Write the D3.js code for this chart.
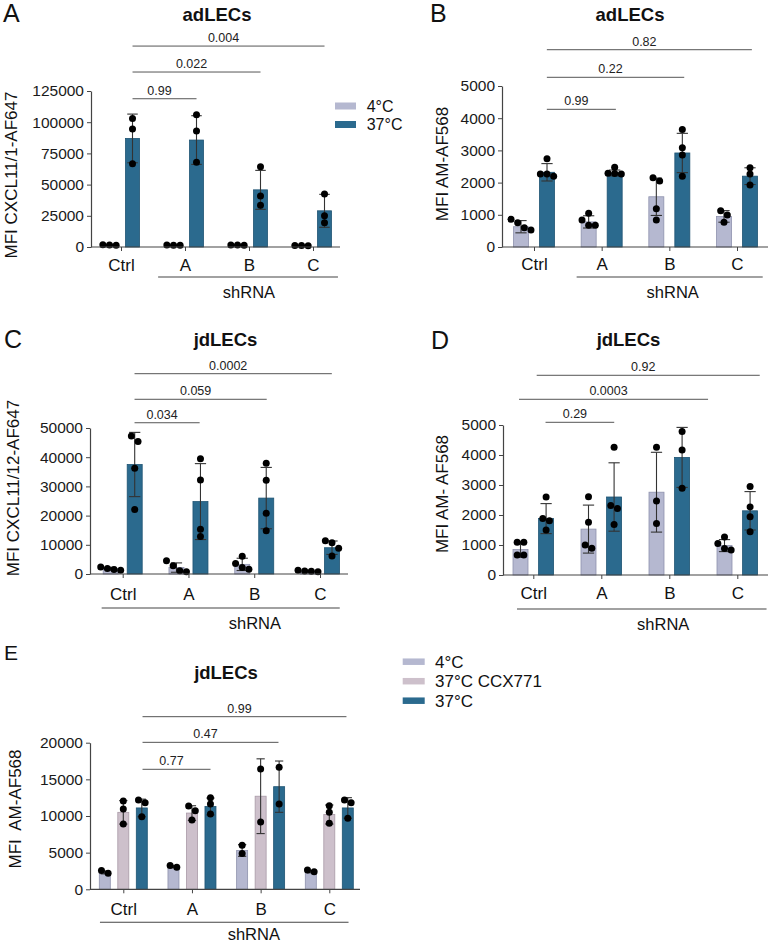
<!DOCTYPE html>
<html><head><meta charset="utf-8">
<script src="https://cdn.jsdelivr.net/npm/d3@7"></script>
<style>
body{margin:0;background:#fff}
svg{display:block}
text{font-family:"Liberation Sans",Arial,sans-serif}
</style>
</head><body>
<svg id="chart" width="770" height="944"></svg>
<script>
// ---------------- DATA ----------------
const categories = ["Ctrl", "A", "B", "C"];
const seriesAB = ["4°C", "37°C"];
const seriesE = ["4°C", "37°C CCX771", "37°C"];

// Panel A: adLECs, MFI CXCL11/1-AF647
const aTicks = [0, 25000, 50000, 75000, 100000, 125000];
const aMean4 = [1700, 1500, 1600, 1200];
const aSd4 = [250, 150, 150, 150];
const aPts4 = [[1900, 1700, 1500], [1600, 1500, 1400], [1700, 1600, 1500], [1300, 1200, 1100]];
const aMean37 = [87000, 85700, 45800, 29000];
const aSd37 = [19500, 19500, 15600, 13200];
const aPts37 = [[103000, 94500, 66800], [106000, 93000, 68000], [64300, 40900, 33400], [42500, 25000, 19500]];
const aBracketLabels = ["0.99", "0.022", "0.004"];
const aBracketLevels = [118800, 140200, 161000];
const aBracketFrom = [0.18, 0.18, 0.18];
const aBracketTo = [1.18, 2.18, 3.18];

// Panel B: adLECs, MFI AM-AF568
const bTicks = [0, 1000, 2000, 3000, 4000, 5000];
const bMean4 = [630, 780, 1560, 950];
const bSd4 = [190, 190, 580, 180];
const bPts4 = [[860, 755, 600, 530], [1046, 840, 674, 674], [2150, 2050, 1190, 840], [1127, 994, 767]];
const bMean37 = [2320, 2300, 2920, 2200];
const bSd37 = [270, 90, 610, 260];
const bPts37 = [[2740, 2270, 2270, 2200], [2480, 2290, 2280, 2270], [3650, 3080, 2860, 2200], [2460, 2270, 1925]];
const bBracketLabels = ["0.99", "0.22", "0.82"];
const bBracketLevels = [4276, 5270, 6127];
const bBracketFrom = [0.19, 0.19, 0.19];
const bBracketTo = [1.21, 2.22, 3.22];

// Panel C: jdLECs, MFI CXCL11/12-AF647
const cTicks = [0, 10000, 20000, 30000, 40000, 50000];
const cMean4 = [1800, 2200, 3300, 1000];
const cSd4 = [500, 1600, 2100, 250];
const cPts4 = [[2400, 1900, 1500, 1300], [4500, 2800, 1100, 800], [6100, 3600, 2200, 1600], [1300, 1000, 900, 800]];
const cMean37 = [37500, 24800, 26000, 9000];
const cSd37 = [11000, 13000, 10500, 2300];
const cPts37 = [[47300, 45400, 36200, 22100], [39500, 32200, 15300, 12800], [37900, 32100, 20800, 14800], [11400, 10700, 8800, 6200]];
const cBracketLabels = ["0.034", "0.059", "0.0002"];
const cBracketLevels = [51800, 59830, 68600];
const cBracketFrom = [0.18, 0.18, 0.18];
const cBracketTo = [1.17, 2.19, 3.18];

// Panel D: jdLECs, MFI AM- AF568
const dTicks = [0, 1000, 2000, 3000, 4000, 5000];
const dMean4 = [850, 1530, 2760, 980];
const dSd4 = [260, 800, 1330, 200];
const dPts4 = [[1090, 1090, 670, 670], [2610, 1760, 1000, 890], [4260, 2470, 1720], [1270, 1050, 885, 830]];
const dMean37 = [1880, 2600, 3920, 2140];
const dSd37 = [500, 1140, 1000, 640];
const dPts37 = [[2600, 1880, 1810, 1500], [4260, 2320, 2220, 1680], [4780, 4170, 2890], [2950, 2270, 1940, 1440]];
const dBracketLabels = ["0.29", "0.0003", "0.92"];
const dBracketLevels = [5090, 5857, 6657];
const dBracketFrom = [0.18, -0.21, 0.05];
const dBracketTo = [1.19, 2.57, 3.33];

// Panel E: jdLECs, MFI AM-AF568
const eTicks = [0, 5000, 10000, 15000, 20000];
const eMean4 = [2300, 3100, 5300, 2400];
const eSd4 = [200, 150, 800, 150];
const ePts4 = [[2200, 2550], [3000, 3250], [6000, 4900], [2400, 2650]];
const eMeanCCX = [10500, 10400, 12700, 10200];
const eSdCCX = [1600, 1000, 5100, 1300];
const ePtsCCX = [[12050, 10950, 8900], [11360, 10730, 9450], [16400, 9180], [11400, 10500, 9000]];
const eMean37 = [11100, 11300, 14000, 11100];
const eSd37 = [1200, 1150, 3500, 1400];
const ePts37 = [[12180, 11820, 9900], [12500, 11640, 10270], [16640, 11640], [12180, 11820, 9700]];
const eBracketLabels = ["0.77", "0.47", "0.99"];
const eBracketLevels = [16370, 20050, 23550];
const eBracketFrom = [0.28, 0.28, 0.28];
const eBracketTo = [1.27, 2.26, 3.25];

// ---------------- STYLE ----------------
const fill = {"4°C": "#b5b8d0", "37°C CCX771": "#cdc0cb", "37°C": "#2b6a8e"};
const edge = {"4°C": "#8e92ad", "37°C CCX771": "#a99aa7", "37°C": "#1f5473"};
const axisColor = "#444";
const DOT_R = 3.5;

const svg = d3.select("#chart");

function swarm(vals, y, r) {
  const idx = vals.map((v, i) => ({i, py: y(v)})).sort((a, b) => a.py - b.py);
  const offs = new Array(vals.length).fill(0);
  let groups = [], cur = [];
  idx.forEach(d => {
    if (cur.length && d.py - cur[cur.length - 1].py > 2 * r * 0.8) { groups.push(cur); cur = []; }
    cur.push(d);
  });
  if (cur.length) groups.push(cur);
  groups.forEach(gr => {
    const m = gr.length;
    gr.forEach((d, k) => { offs[d.i] = (k - (m - 1) / 2) * 2 * r * 0.95; });
  });
  return offs;
}

function drawPanel(p) {
  const g = svg.append("g");
  const y = d3.scaleLinear().domain([0, p.yMax]).range([p.yBase, p.yTop]);
  const x = d3.scalePoint().domain(categories).range(p.catRange);
  const xu = d3.scaleLinear().domain([0, categories.length - 1]).range(p.catRange);
  const off = d3.scalePoint().domain(p.series).range([-p.off, p.off]);

  const rows = [];
  p.series.forEach((s, si) => categories.forEach((c, ci) => rows.push({
    s, c, m: p.means[si][ci], sd: p.sds[si][ci], pts: p.pts[si][ci],
    cx: x(c) + off(s)
  })));

  g.selectAll("rect.bar").data(rows).join("rect").attr("class", "bar")
    .attr("x", d => d.cx - p.barW / 2).attr("y", d => y(d.m))
    .attr("width", p.barW).attr("height", d => y(0) - y(d.m))
    .attr("fill", d => fill[d.s]).attr("stroke", d => edge[d.s]).attr("stroke-width", 0.8);

  const eb = g.selectAll("g.eb").data(rows).join("g").attr("class", "eb")
    .attr("stroke", "#333").attr("stroke-width", 1.1);
  const capW = p.barW * 0.75;
  eb.append("line").attr("x1", d => d.cx).attr("x2", d => d.cx)
    .attr("y1", d => y(d.m + d.sd)).attr("y2", d => y(Math.max(0, d.m - d.sd)));
  eb.append("line").attr("x1", d => d.cx - capW / 2).attr("x2", d => d.cx + capW / 2)
    .attr("y1", d => y(d.m + d.sd)).attr("y2", d => y(d.m + d.sd));
  eb.append("line").attr("x1", d => d.cx - capW / 2).attr("x2", d => d.cx + capW / 2)
    .attr("y1", d => y(Math.max(0, d.m - d.sd))).attr("y2", d => y(Math.max(0, d.m - d.sd)));

  const dots = [];
  rows.forEach(d => {
    const o = swarm(d.pts, y, DOT_R);
    d.pts.forEach((v, k) => dots.push({x: d.cx + o[k], y: y(v)}));
  });
  g.selectAll("circle").data(dots).join("circle")
    .attr("cx", d => d.x).attr("cy", d => d.y).attr("r", DOT_R).attr("fill", "#000");

  const ya = g.append("g").attr("transform", `translate(${p.x0},0)`)
    .call(d3.axisLeft(y).tickValues(p.ticks).tickSize(4).tickSizeOuter(0).tickPadding(3).tickFormat(d3.format("d")));
  ya.select(".domain").attr("stroke", axisColor).attr("stroke-width", 1.2);
  ya.selectAll(".tick line").attr("stroke", axisColor);
  ya.selectAll(".tick text").attr("font-size", 15.5).attr("fill", "#1a1a1a")
    .attr("font-family", "'Liberation Sans',Arial,sans-serif");

  g.append("line").attr("x1", p.x0).attr("x2", p.x1).attr("y1", p.yBase).attr("y2", p.yBase)
    .attr("stroke", axisColor).attr("stroke-width", 1.2);
  const xa = g.append("g").attr("transform", `translate(0,${p.yBase})`)
    .call(d3.axisBottom(x).tickSize(4).tickSizeOuter(0));
  xa.select(".domain").remove();
  xa.selectAll(".tick line").attr("stroke", axisColor);
  xa.selectAll(".tick text").attr("y", p.labDy).attr("dy", null)
    .attr("font-size", 17).attr("fill", "#111").attr("font-family", "'Open Sans',sans-serif");

  g.append("line").attr("x1", xu(p.shFrom)).attr("x2", xu(p.shTo))
    .attr("y1", p.yBase + p.shLineDy).attr("y2", p.yBase + p.shLineDy)
    .attr("stroke", axisColor).attr("stroke-width", 1.1);
  g.append("text").attr("x", xu(p.shText)).attr("y", p.yBase + p.shTextDy)
    .attr("text-anchor", "middle").attr("font-size", 16.5).attr("fill", "#111")
    .attr("font-family", "'Open Sans',sans-serif").text("shRNA");

  p.bLabels.forEach((lab, i) => {
    const yy = y(p.bLevels[i]);
    const xa1 = xu(p.bFrom[i]), xa2 = xu(p.bTo[i]);
    g.append("line").attr("x1", xa1).attr("x2", xa2).attr("y1", yy).attr("y2", yy)
      .attr("stroke", "#555").attr("stroke-width", 1);
    g.append("text").attr("x", (xa1 + xa2) / 2 - 5).attr("y", yy - 4)
      .attr("text-anchor", "middle").attr("font-size", 12.5).attr("fill", "#222").text(lab);
  });

  g.append("text").attr("x", p.titleX).attr("y", p.titleY).attr("text-anchor", "middle")
    .attr("font-size", 18.5).attr("font-weight", "bold").attr("fill", "#111").text(p.title);
  g.append("text").attr("x", p.letterX).attr("y", p.letterY).attr("font-size", p.letterSize)
    .attr("fill", "#111").text(p.letter);
  g.append("text").attr("transform", `translate(${p.ylabX},${p.ylabY}) rotate(-90)`)
    .attr("text-anchor", "middle").attr("dy", "0.36em").attr("font-size", 17)
    .attr("fill", "#111").style("white-space", "pre").text(p.ylabel);
}

drawPanel({
  letter: "A", letterX: 3, letterY: 22, letterSize: 25,
  title: "adLECs", titleX: 217, titleY: 21,
  ylabel: "MFI CXCL11/1-AF647", ylabX: 11, ylabY: 175,
  yMax: 125000, ticks: aTicks, yBase: 247, yTop: 91, x0: 91, x1: 340,
  catRange: [121, 313], off: 11.5, barW: 14, series: seriesAB,
  means: [aMean4, aMean37], sds: [aSd4, aSd37], pts: [aPts4, aPts37],
  bLabels: aBracketLabels, bLevels: aBracketLevels, bFrom: aBracketFrom, bTo: aBracketTo,
  labDy: 24, shLineDy: 30, shTextDy: 51, shFrom: 0.58, shTo: 3.39, shText: 2.0
});
drawPanel({
  letter: "B", letterX: 430, letterY: 22, letterSize: 25,
  title: "adLECs", titleX: 630, titleY: 21,
  ylabel: "MFI AM-AF568", ylabX: 441.7, ylabY: 164,
  yMax: 5000, ticks: bTicks, yBase: 247, yTop: 86, x0: 502, x1: 768,
  catRange: [534, 737], off: 13, barW: 15, series: seriesAB,
  means: [bMean4, bMean37], sds: [bSd4, bSd37], pts: [bPts4, bPts37],
  bLabels: bBracketLabels, bLevels: bBracketLevels, bFrom: bBracketFrom, bTo: bBracketTo,
  labDy: 23, shLineDy: 30, shTextDy: 51, shFrom: 0.63, shTo: 3.38, shText: 2.05
});
drawPanel({
  letter: "C", letterX: 4, letterY: 348, letterSize: 25,
  title: "jdLECs", titleX: 225.5, titleY: 346,
  ylabel: "MFI CXCL11/12-AF647", ylabX: 13, ylabY: 488,
  yMax: 50000, ticks: cTicks, yBase: 574, yTop: 428, x0: 90, x1: 348,
  catRange: [122.7, 320], off: 12, barW: 15, series: seriesAB,
  means: [cMean4, cMean37], sds: [cSd4, cSd37], pts: [cPts4, cPts37],
  bLabels: cBracketLabels, bLevels: cBracketLevels, bFrom: cBracketFrom, bTo: cBracketTo,
  labDy: 26, shLineDy: 34, shTextDy: 55, shFrom: -0.32, shTo: 3.30, shText: 2.01
});
drawPanel({
  letter: "D", letterX: 431, letterY: 349, letterSize: 25,
  title: "jdLECs", titleX: 628.5, titleY: 346,
  ylabel: "MFI AM- AF568", ylabX: 441.7, ylabY: 494,
  yMax: 5000, ticks: dTicks, yBase: 575, yTop: 425, x0: 503, x1: 768,
  catRange: [533.3, 737.3], off: 12.8, barW: 15, series: seriesAB,
  means: [dMean4, dMean37], sds: [dSd4, dSd37], pts: [dPts4, dPts37],
  bLabels: dBracketLabels, bLevels: dBracketLevels, bFrom: dBracketFrom, bTo: dBracketTo,
  labDy: 24, shLineDy: 34, shTextDy: 55, shFrom: -0.24, shTo: 3.43, shText: 1.91
});
drawPanel({
  letter: "E", letterX: 4, letterY: 660, letterSize: 21,
  title: "jdLECs", titleX: 226, titleY: 679,
  ylabel: "MFI  AM-AF568", ylabX: 15, ylabY: 809,
  yMax: 20000, ticks: eTicks, yBase: 889.3, yTop: 742.7, x0: 90, x1: 360,
  catRange: [123.3, 329.3], off: 18.5, barW: 11, series: seriesE,
  means: [eMean4, eMeanCCX, eMean37], sds: [eSd4, eSdCCX, eSd37], pts: [ePts4, ePtsCCX, ePts37],
  bLabels: eBracketLabels, bLevels: eBracketLevels, bFrom: eBracketFrom, bTo: eBracketTo,
  labDy: 26, shLineDy: 33, shTextDy: 51, shFrom: -0.34, shTo: 3.28, shText: 1.90
});

function legend(items, x, y0, step, size, swW, swH, textX) {
  const lg = svg.append("g");
  const rowsL = lg.selectAll("g").data(items).join("g")
    .attr("transform", (d, i) => `translate(0,${y0 + i * step})`);
  rowsL.append("rect").attr("x", x).attr("y", -swH / 2).attr("width", swW).attr("height", swH)
    .attr("fill", d => fill[d]);
  rowsL.append("text").attr("x", textX).attr("y", 0).attr("dy", "0.36em")
    .attr("font-size", size).attr("fill", "#111").text(d => d);
}
legend(seriesAB, 335, 106, 18.5, 16, 21, 7, 366.7);
legend(seriesE, 402.7, 661.7, 19.5, 17, 22, 6.5, 435);
</script>
</body></html>
